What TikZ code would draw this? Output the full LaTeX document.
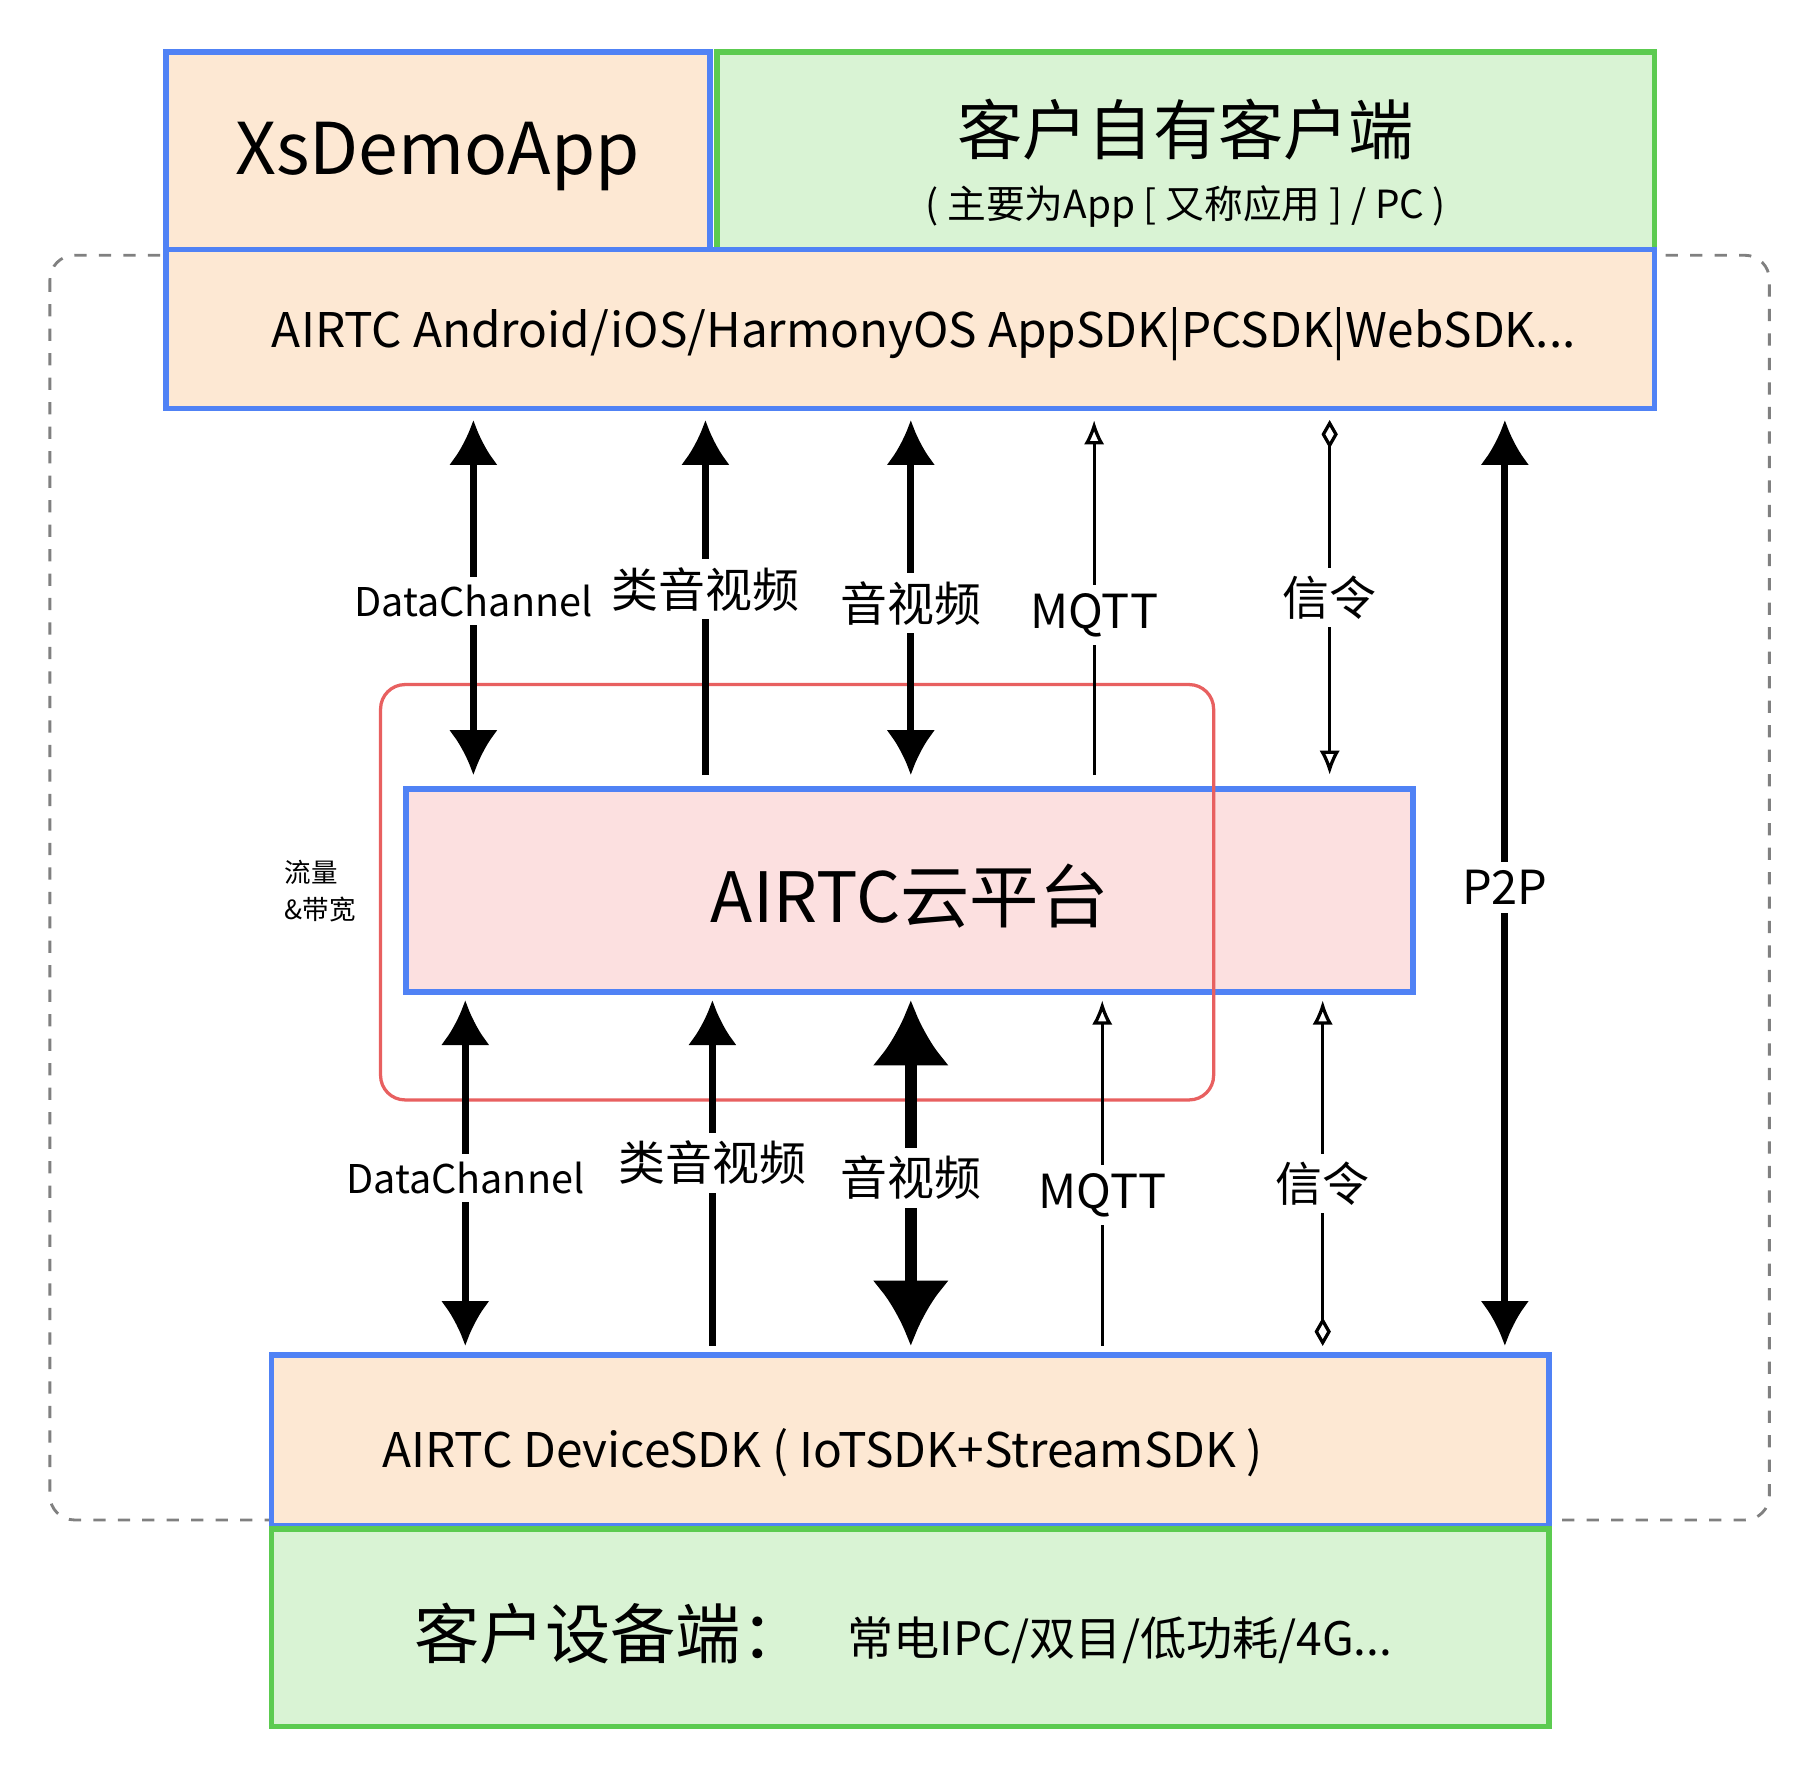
\documentclass[tikz,border=0pt]{standalone}
\usepackage{fontspec}
\setmainfont{Noto Sans CJK SC}
\usetikzlibrary{arrows.meta}
\definecolor{bb}{HTML}{5082F5}
\definecolor{gb}{HTML}{5CCB50}
\definecolor{of}{HTML}{FDE8D3}
\definecolor{gf}{HTML}{D9F3D4}
\definecolor{pf}{HTML}{FCE0E0}
\definecolor{rb}{HTML}{E86060}
\begin{document}
\begin{tikzpicture}[x=0.01cm,y=-0.01cm,
 box/.style={line width=1.4pt},
 lab/.style={fill=white,inner sep=2pt,font=\fontsize{9.7}{11}\selectfont},
 lb/.style={fill=white,inner sep=2pt,font=\fontsize{11.5}{13}\selectfont},
 thick arr/.style={line width=1.7pt,{Latex[length=11pt,width=12pt]}-{Latex[length=11pt,width=12pt]}},
 up arr/.style={line width=1.7pt,-{Latex[length=11pt,width=12pt]}},
 big arr/.style={line width=3pt,{Latex[length=16pt,width=19pt]}-{Latex[length=16pt,width=19pt]}},
 mq/.style={line width=0.8pt,-{Latex[open,length=6pt,width=5pt]}},
 sig/.style={line width=0.8pt,{Diamond[open,length=7pt,width=4pt]}-{Latex[open,length=6pt,width=5pt]}}]
\useasboundingbox (0,0) rectangle (1560,1524);
\draw[gray,dashed,line width=0.7pt,rounded corners=6pt] (43,220) rectangle (1525,1310);
\draw[box,bb,fill=of] (143,45) rectangle (612,215);
\node (xs) at (377,135) {\fontsize{17.5}{21}\selectfont XsDemoApp};
\draw[box,gb,fill=gf] (618,45) rectangle (1426,215);
\node (cl) at (1022,112) {\fontsize{16}{19}\selectfont 客户自有客户端};
\node (cl2) at (1022,178) {\fontsize{9.5}{12}\selectfont ( 主要为App [ 又称应用 ] / PC )};
\draw[box,bb,fill=of] (143,215) rectangle (1426,352);
\node[anchor=west] (sdk) at (222,288) {\fontsize{11.7}{15}\selectfont AIRTC Android/iOS/HarmonyOS AppSDK|PCSDK|WebSDK...};
\draw[box,bb,fill=pf] (350,680) rectangle (1218,855);
\draw[rb,line width=0.8pt,rounded corners=6pt] (328,590) rectangle (1046,948);
\node (cloud) at (784,772) {\fontsize{17}{21}\selectfont AIRTC云平台};
\node[align=left,font=\fontsize{6.5}{9}\selectfont] (fl) at (276,768) {流量\\\&带宽};
\draw[box,bb,fill=of] (234,1168) rectangle (1335,1315);
\node[anchor=west] (dev) at (317,1252) {\fontsize{11.7}{15}\selectfont AIRTC DeviceSDK ( IoTSDK+StreamSDK )};
\draw[box,gb,fill=gf] (234,1318) rectangle (1335,1488);
\node[anchor=west] (cd) at (345,1408) {\fontsize{16}{19}\selectfont 客户设备端：};
\node[anchor=west] (cd2) at (718,1414) {\fontsize{11.3}{13}\selectfont 常电IPC/双目/低功耗/4G...};
% top arrows
\draw[thick arr] (408,362) -- (408,668);
\node[lab] at (408,518) {DataChannel};
\draw[up arr] (608,668) -- (608,362);
\node[lb] at (608,508) {类音视频};
\draw[thick arr] (785,362) -- (785,668);
\node[lb] at (785,520) {音视频};
\draw[mq] (943,668) -- (943,362);
\node[lb] at (943,530) {MQTT};
\draw[sig] (1146,362) -- (1146,668);
\node[lb] at (1146,515) {信令};
\draw[thick arr] (1297,362) -- (1297,1160);
\node[lb] at (1297,765) {P2P};
% bottom arrows
\draw[thick arr] (401,862) -- (401,1160);
\node[lab] at (401,1015) {DataChannel};
\draw[up arr] (614,1160) -- (614,862);
\node[lb] at (614,1002) {类音视频};
\draw[big arr] (785,862) -- (785,1160);
\node[lb] at (785,1015) {音视频};
\draw[mq] (950,1160) -- (950,862);
\node[lb] at (950,1030) {MQTT};
\draw[sig] (1140,1160) -- (1140,862);
\node[lb] at (1140,1020) {信令};
\end{tikzpicture}
\end{document}
